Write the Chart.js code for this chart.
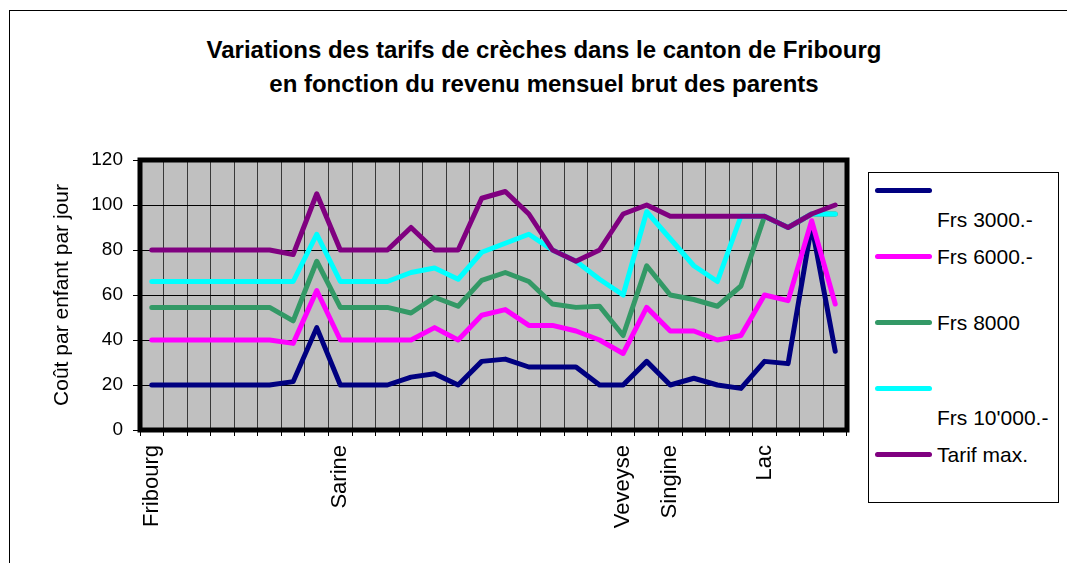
<!DOCTYPE html>
<html>
<head>
<meta charset="utf-8">
<script src="https://cdn.jsdelivr.net/npm/chart.js@4.4.0/dist/chart.umd.min.js"></script>
<style>
  body { margin: 0; width: 1067px; height: 563px; overflow: hidden; background: #fff; position: relative;
         font-family: "Liberation Sans", Arial, sans-serif; }
  #frame { position: absolute; left: 9px; top: 10px; width: 1100px; height: 600px; border: 1px solid #000; }
  #title { position: absolute; left: 9px; width: 1070px; top: 33px; text-align: center;
           font-weight: bold; font-size: 24px; line-height: 34px; color: #000; }
  #wrap { position: absolute; left: 0; top: 0; width: 1067px; height: 563px; }
  #legend { position: absolute; left: 868px; top: 172px; width: 189px; height: 329px;
            border: 1px solid #000; background: #fff; }
  .item { position: absolute; left: 6px; font-size: 21px; line-height: 29px; white-space: pre-line; color: #000; }
  .swatch { position: absolute; left: 0; top: 12px; width: 57px; height: 5px; border-radius: 3px; }
  .item span { display: block; padding-left: 62px; }
</style>
</head>
<body>
<div id="frame"></div>
<div id="title">Variations des tarifs de crèches dans le canton de Fribourg<br>en fonction du revenu mensuel brut des parents</div>
<div id="wrap"><canvas id="chart" width="1067" height="563"></canvas></div>
<div id="legend"></div>
<script>
// 30 crèches, only the first one of each district gets a label
const categories = [
  'Fribourg', '', '', '', '', '', '', '',
  'Sarine', '', '', '', '', '', '', '', '', '', '', '',
  'Veveyse', '',
  'Singine', '', '', '',
  'Lac', '', '', ''
];

// legend names, the "\n" mimics the line break in the original labels
const seriesNames = ['\nFrs 3000.-', 'Frs 6000.-', 'Frs 8000', "\nFrs 10'000.-", 'Tarif max.'];
const seriesColors = ['#000080', '#FF00FF', '#339966', '#00FFFF', '#800080'];

const frs3000 = [20, 20, 20, 20, 20, 20, 21.5, 45.5, 20, 20, 20, 23.5, 25, 20, 30.5,
                 31.5, 28, 28, 28, 20, 20, 30.5, 20, 23, 20, 18.5, 30.5, 29.5, 91, 35];
const frs6000 = [40, 40, 40, 40, 40, 40, 38.5, 62, 40, 40, 40, 40, 45.5, 40, 51,
                 53.5, 46.5, 46.5, 44, 40, 34, 54.5, 44, 44, 40, 42, 60, 57.5, 93, 56];
const frs8000 = [54.5, 54.5, 54.5, 54.5, 54.5, 54.5, 48.5, 75, 54.5, 54.5, 54.5, 52, 59, 55, 66.5,
                 70, 66, 56, 54.5, 55, 42, 73, 60, 58, 55, 64, 95, 90, 96, 96];
const frs10000 = [66, 66, 66, 66, 66, 66, 66, 87, 66, 66, 66, 70, 72, 67, 79,
                  83, 87, 80, 75, 67, 60, 97, 85, 73, 66, 95, 95, 90, 96, 96];
const tarifMax = [80, 80, 80, 80, 80, 80, 78, 105, 80, 80, 80, 90, 80, 80, 103,
                  106, 96, 80, 75, 80, 96, 100, 95, 95, 95, 95, 95, 90, 96, 100];

const yTicks = [0, 20, 40, 60, 80, 100, 120];

const seriesData = [frs3000, frs6000, frs8000, frs10000, tarifMax];

// grey plot area + thick black frame, like the old Excel charts
const plotArea = {
  id: 'plotArea',
  beforeDraw(chart) {
    const a = chart.chartArea, ctx = chart.ctx;
    ctx.save();
    ctx.fillStyle = '#C0C0C0';
    ctx.fillRect(a.left, a.top, a.right - a.left, a.bottom - a.top);
    ctx.restore();
  },
  beforeDatasetsDraw(chart) {
    const a = chart.chartArea, ctx = chart.ctx;
    ctx.save();
    ctx.strokeStyle = '#000';
    ctx.lineWidth = 5;
    ctx.strokeRect(a.left, a.top, a.right - a.left, a.bottom - a.top);
    ctx.restore();
  }
};

const datasets = seriesData.map((d, i) => ({
  label: seriesNames[i],
  data: d,
  borderColor: seriesColors[i],
  backgroundColor: seriesColors[i],
  borderWidth: 5,
  pointRadius: 0,
  tension: 0,
  borderCapStyle: 'round',
  borderJoinStyle: 'round',
  order: seriesData.length - i // later series on top, as in the original
}));

const chart = new Chart(document.getElementById('chart'), {
  type: 'line',
  data: { labels: categories, datasets: datasets },
  plugins: [plotArea],
  options: {
    responsive: false,
    animation: false,
    devicePixelRatio: 1,
    layout: { padding: { top: 160, right: 220, bottom: 0, left: 0 } },
    plugins: {
      legend: { display: false },
      tooltip: { enabled: false }
    },
    scales: {
      x: {
        offset: true,
        afterFit(scale) { scale.height = 133; },
        grid: { offset: true, color: '#383838', lineWidth: 1, tickColor: '#000', tickLength: 6 },
        border: { display: false },
        ticks: {
          autoSkip: false, minRotation: 90, maxRotation: 90, padding: 9,
          color: '#000', font: { family: 'Liberation Sans', size: 22 }
        }
      },
      y: {
        min: 0, max: 120,
        afterFit(scale) { scale.width = 140; },
        afterBuildTicks(scale) { scale.ticks = yTicks.map(v => ({ value: v })); },
        grid: { color: '#000', lineWidth: 1, tickColor: '#000', tickLength: 7 },
        border: { display: false },
        ticks: { padding: 10, color: '#000', font: { family: 'Liberation Sans', size: 19 } },
        title: {
          display: true, text: 'Coût par enfant par jour', color: '#000',
          padding: { top: 50, bottom: 0 },
          font: { family: 'Liberation Sans', size: 21 }
        }
      }
    }
  }
});

// legend built from the datasets, placed like the Excel one
const legend = document.getElementById('legend');
chart.data.datasets.forEach((ds, i) => {
  const item = document.createElement('div');
  item.className = 'item';
  item.style.top = (3 + 66 * i) + 'px';
  const sw = document.createElement('div');
  sw.className = 'swatch';
  sw.style.background = ds.borderColor;
  const txt = document.createElement('span');
  txt.textContent = ds.label;
  item.appendChild(sw);
  item.appendChild(txt);
  legend.appendChild(item);
});
</script>
</body>
</html>
